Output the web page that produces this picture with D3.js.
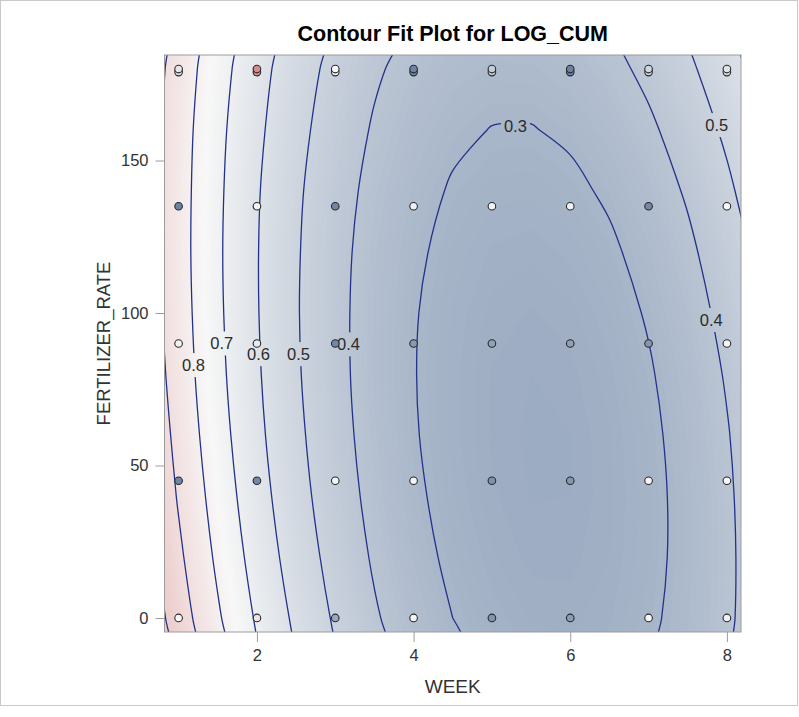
<!DOCTYPE html>
<html>
<head>
<meta charset="utf-8">
<script src="https://cdn.jsdelivr.net/npm/d3@7"></script>
<style>
  body { margin: 0; background: #fff; }
  svg { display: block; font-family: "Liberation Sans", Arial, Helvetica, sans-serif; }
</style>
</head>
<body>
<svg id="chart" width="799" height="717"></svg>
<script>
// ---- Fitted LOG_CUM surface on a regular WEEK x FERTILIZER_RATE grid ----
const gridWeeks = [0.5, 1.0, 1.5, 2.0, 2.5, 3.0, 3.5, 4.0, 4.5, 5.0, 5.5, 6.0, 6.5, 7.0, 7.5, 8.0, 8.5];
const gridFert = [-20, 0, 20, 40, 60, 80, 100, 120, 140, 160, 180, 200];
// one row per gridFert value, one column per gridWeeks value
const fitLogCum = [
  [1.141, 0.987, 0.847, 0.722, 0.612, 0.517, 0.437, 0.372, 0.322, 0.287, 0.267, 0.262, 0.272, 0.298, 0.338, 0.393, 0.463],
  [1.102, 0.949, 0.812, 0.689, 0.581, 0.488, 0.410, 0.348, 0.300, 0.267, 0.249, 0.246, 0.258, 0.286, 0.328, 0.385, 0.457],
  [1.068, 0.918, 0.782, 0.661, 0.555, 0.465, 0.389, 0.328, 0.283, 0.252, 0.236, 0.236, 0.250, 0.279, 0.323, 0.383, 0.457],
  [1.040, 0.891, 0.758, 0.639, 0.535, 0.447, 0.373, 0.315, 0.271, 0.242, 0.229, 0.230, 0.247, 0.278, 0.324, 0.386, 0.462],
  [1.017, 0.870, 0.739, 0.622, 0.521, 0.434, 0.363, 0.306, 0.265, 0.238, 0.227, 0.230, 0.249, 0.282, 0.331, 0.394, 0.473],
  [0.994, 0.854, 0.725, 0.611, 0.511, 0.427, 0.357, 0.303, 0.264, 0.239, 0.230, 0.236, 0.256, 0.292, 0.342, 0.408, 0.489],
  [0.980, 0.844, 0.717, 0.605, 0.507, 0.425, 0.358, 0.305, 0.268, 0.246, 0.239, 0.246, 0.269, 0.307, 0.360, 0.427, 0.510],
  [0.972, 0.839, 0.714, 0.604, 0.509, 0.428, 0.363, 0.313, 0.278, 0.258, 0.253, 0.263, 0.287, 0.327, 0.382, 0.452, 0.537],
  [0.970, 0.840, 0.717, 0.608, 0.515, 0.437, 0.374, 0.326, 0.293, 0.275, 0.272, 0.284, 0.311, 0.353, 0.410, 0.482, 0.569],
  [0.973, 0.845, 0.724, 0.619, 0.528, 0.452, 0.391, 0.345, 0.314, 0.298, 0.297, 0.311, 0.340, 0.384, 0.443, 0.517, 0.606],
  [0.982, 0.857, 0.738, 0.634, 0.545, 0.471, 0.412, 0.369, 0.340, 0.326, 0.327, 0.343, 0.374, 0.421, 0.482, 0.558, 0.649],
  [1.005, 0.873, 0.756, 0.655, 0.568, 0.496, 0.440, 0.398, 0.371, 0.359, 0.363, 0.381, 0.414, 0.462, 0.526, 0.604, 0.697]
];

// contour levels drawn as lines, and where their value labels sit (data coordinates)
const contourLevels = [0.3, 0.4, 0.5, 0.6, 0.7, 0.8, 0.9, 1.0];
const labelLevels = [0.8, 0.7, 0.6, 0.5, 0.4, 0.3, 0.5, 0.4];
const labelWeeks  = [1.19, 1.55, 2.02, 2.53, 3.17, 5.30, 7.87, 7.80];
const labelFert   = [82.9, 90.0, 86.5, 86.5, 89.7, 161.3, 161.6, 97.7];

// ---- Observed LOG_CUM values ----
const obsWeeks = [1, 2, 3, 4, 5, 6, 7, 8];
const obsRates = [0, 45, 90, 135, 179, 180];
const obsLogCum = [
  [0.76, 0.88, 0.20, 0.74, 0.06, 0.12, 0.77, 0.71],
  [-0.05, -0.02, 0.73, 0.72, 0.04, 0.08, 0.78, 0.77],
  [0.80, 0.66, -0.03, 0.10, 0.16, 0.15, 0.08, 0.74],
  [-0.06, 0.74, -0.04, 0.70, 0.72, 0.71, -0.02, 0.76],
  [0.62, 1.30, 0.78, -0.05, 0.45, -0.08, 0.50, 0.60],
  [0.64, 1.36, 0.76, -0.06, 0.46, -0.07, 0.52, 0.61]
];

// ---- Axes ----
const xTicks = [2, 4, 6, 8];
const yTicks = [0, 50, 100, 150];
const xDomain = [0.82, 8.18];
const yDomain = [-4.6, 184.6];

// colour ramp limits (low / high end of the three-colour gradient)
const rampLimits = [-0.09, 1.61];

// ---- Layout ----
const W = 799, H = 717;
const plot = { left: 164.5, right: 741, top: 55, bottom: 632 };

const svg = d3.select("#chart");
const defs = svg.append("defs");

const x = d3.scaleLinear().domain(xDomain).range([plot.left, plot.right]);
const y = d3.scaleLinear().domain(yDomain).range([plot.bottom, plot.top]);

const [zLo, zHi] = rampLimits;
const color = d3.scaleLinear()
  .domain([zLo, (zLo + zHi) / 2, zHi])
  .range(["#667FA2", "#F8F8F8", "#D05B5B"])
  .clamp(true);

// outer frame
svg.append("rect")
  .attr("x", 0.5).attr("y", 0.5)
  .attr("width", W - 2).attr("height", 705)
  .attr("fill", "none").attr("stroke", "#c9c9c9");

defs.append("clipPath").attr("id", "plotClip")
  .append("rect")
  .attr("x", plot.left).attr("y", plot.top)
  .attr("width", plot.right - plot.left).attr("height", plot.bottom - plot.top);

// grid index -> data coordinates (d3.contours places value i at i + 0.5)
const nx = gridWeeks.length, ny = gridFert.length;
const wStep = gridWeeks[1] - gridWeeks[0];
const fStep = gridFert[1] - gridFert[0];
const gWeek = c => gridWeeks[0] + (c - 0.5) * wStep;
const gFert = c => gridFert[0] + (c - 0.5) * fStep;
const values = fitLogCum.flat();

const toPixels = d3.geoTransform({
  point(px, py) { this.stream.point(x(gWeek(px)), y(gFert(py))); }
});
const bandPath = d3.geoPath(toPixels);

const plotG = svg.append("g").attr("clip-path", "url(#plotClip)");

// continuous colour fill: many thin bands of the fitted surface
const fillSteps = d3.range(0.20, 1.20, 0.01);
const bands = d3.contours().size([nx, ny]).thresholds(fillSteps)(values);
plotG.append("rect")
  .attr("x", plot.left).attr("y", plot.top)
  .attr("width", plot.right - plot.left).attr("height", plot.bottom - plot.top)
  .attr("fill", color(0.2));
plotG.append("g").selectAll("path")
  .data(bands)
  .join("path")
  .attr("d", bandPath)
  .attr("fill", d => color(d.value + 0.005))
  .attr("stroke", d => color(d.value + 0.005))
  .attr("stroke-width", 0.6);

// contour value labels
const labelG = plotG.append("g")
  .attr("font-size", 16.5)
  .attr("fill", "#2b2b2b")
  .attr("text-anchor", "middle");
const labelNodes = labelLevels.map((lv, i) =>
  labelG.append("text")
    .attr("x", x(labelWeeks[i]))
    .attr("y", y(labelFert[i]))
    .attr("dy", "0.36em")
    .text(d3.format(".1f")(lv))
);

// mask so contour lines break around their labels
const mask = defs.append("mask").attr("id", "labelGap")
  .attr("maskUnits", "userSpaceOnUse")
  .attr("x", 0).attr("y", 0).attr("width", W).attr("height", H);
mask.append("rect").attr("x", 0).attr("y", 0).attr("width", W).attr("height", H).attr("fill", "#fff");
labelNodes.forEach(t => {
  const b = t.node().getBBox();
  mask.append("rect")
    .attr("x", b.x - 3).attr("y", b.y - 3)
    .attr("width", b.width + 6).attr("height", b.height + 6)
    .attr("fill", "#000");
});

// contour lines
const lineG = plotG.insert("g", () => labelG.node()).attr("mask", "url(#labelGap)");
const smoothRing = d3.line().curve(d3.curveCatmullRomClosed.alpha(0.5));
d3.contours().size([nx, ny]).thresholds(contourLevels)(values).forEach(c => {
  c.coordinates.forEach(poly => poly.forEach(ring => {
    const pts = ring.slice(0, -1).map(([px, py]) => [x(gWeek(px)), y(gFert(py))]);
    lineG.append("path")
      .attr("d", smoothRing(pts))
      .attr("fill", "none")
      .attr("stroke", "#22328a")
      .attr("stroke-width", 1.3)
      .attr("stroke-linejoin", "round");
  }));
});

// observed points
const obs = [];
obsRates.forEach((r, j) => obsWeeks.forEach((w, i) => obs.push({ week: w, rate: r, v: obsLogCum[j][i] })));
plotG.append("g").selectAll("circle")
  .data(obs)
  .join("circle")
  .attr("cx", d => x(d.week))
  .attr("cy", d => y(d.rate))
  .attr("r", 3.8)
  .attr("fill", d => color(d.v))
  .attr("stroke", "#2a2a2a")
  .attr("stroke-width", 1.1);

// plot frame
svg.append("rect")
  .attr("x", plot.left).attr("y", plot.top)
  .attr("width", plot.right - plot.left).attr("height", plot.bottom - plot.top)
  .attr("fill", "none").attr("stroke", "#9c9c9c").attr("stroke-width", 1);

// x axis
const xAxis = d3.axisBottom(x).tickValues(xTicks).tickSize(10).tickPadding(7).tickFormat(d3.format("d"));
const xg = svg.append("g").attr("transform", `translate(0,${plot.bottom})`).call(xAxis);
xg.select(".domain").remove();
xg.selectAll(".tick line").attr("stroke", "#9c9c9c");
xg.selectAll(".tick text").attr("font-size", 16.5).attr("fill", "#333").attr("font-family", null);

// y axis
const yAxis = d3.axisLeft(y).tickValues(yTicks).tickSize(9).tickPadding(7).tickFormat(d3.format("d"));
const yg = svg.append("g").attr("transform", `translate(${plot.left},0)`).call(yAxis);
yg.select(".domain").remove();
yg.selectAll(".tick line").attr("stroke", "#9c9c9c");
yg.selectAll(".tick text").attr("font-size", 16.5).attr("fill", "#333").attr("font-family", null);

// axis titles
svg.append("text")
  .attr("x", (plot.left + plot.right) / 2).attr("y", 693)
  .attr("text-anchor", "middle").attr("font-size", 19).attr("fill", "#333")
  .text("WEEK");
svg.append("text")
  .attr("transform", `translate(110,${(plot.top + plot.bottom) / 2}) rotate(-90)`)
  .attr("text-anchor", "middle").attr("font-size", 18.5).attr("fill", "#333")
  .text("FERTILIZER_RATE");

// chart title
svg.append("text")
  .attr("x", (plot.left + plot.right) / 2).attr("y", 41)
  .attr("text-anchor", "middle").attr("font-size", 21.5).attr("font-weight", "bold").attr("fill", "#000")
  .text("Contour Fit Plot for LOG_CUM");
</script>
</body>
</html>
